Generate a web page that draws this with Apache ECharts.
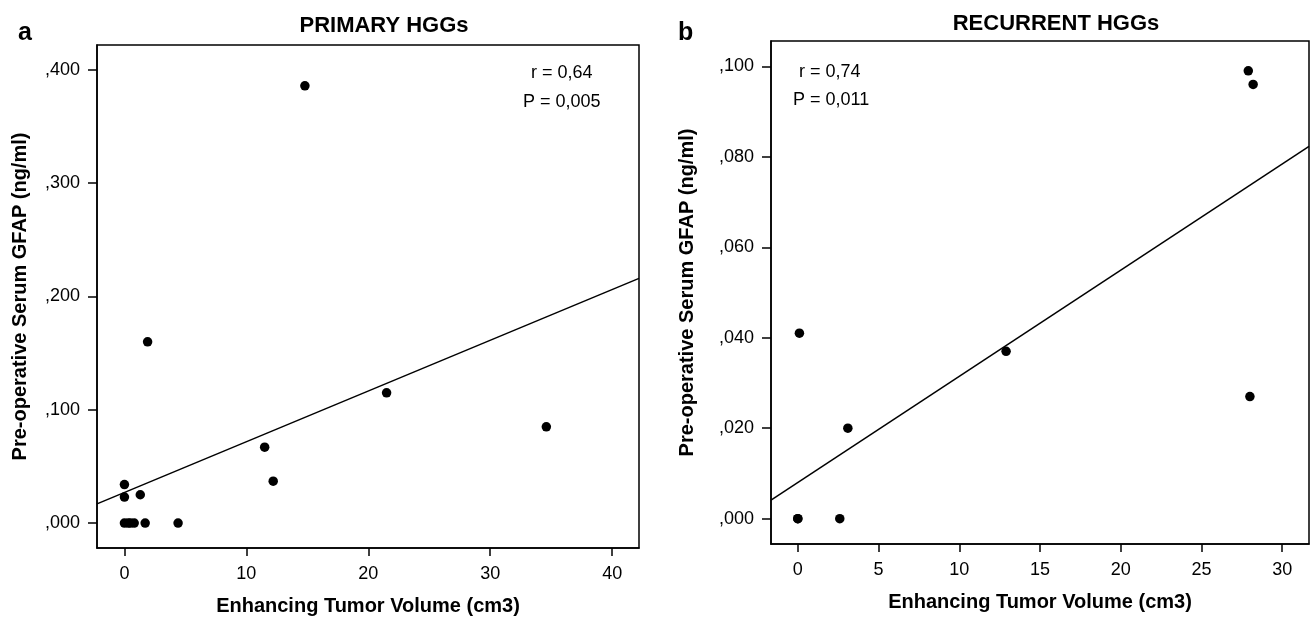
<!DOCTYPE html>
<html>
<head>
<meta charset="utf-8">
<script src="https://cdn.jsdelivr.net/npm/echarts@6/dist/echarts.min.js"></script>
<style>
  html, body { margin: 0; padding: 0; background: #fff; }
  #chart { width: 1311px; height: 621px; }
</style>
</head>
<body>
<div id="chart"></div>
<script>
// panel a: primary HGGs
const primaryX = [14.8, 1.9, 21.5, 34.6, 11.5, 12.2, 0, 0, 1.3, 0, 0.3, 0.5, 0.8, 1.7, 4.4];
const primaryY = [0.386, 0.160, 0.115, 0.085, 0.067, 0.037, 0.034, 0.023, 0.025, 0, 0, 0, 0, 0, 0];
const primaryFit = [[-2.25, 0.017], [42.2, 0.216]];
const primaryXTicks = [0, 10, 20, 30, 40];
const primaryYTicks = [0, 0.1, 0.2, 0.3, 0.4];
const primaryYLabels = [',000', ',100', ',200', ',300', ',400'];

// panel b: recurrent HGGs
const recurrentX = [27.9, 28.2, 0.1, 12.9, 3.1, 28.0, 0, 0, 2.6];
const recurrentY = [0.099, 0.096, 0.041, 0.037, 0.020, 0.027, 0, 0, 0];
const recurrentFit = [[-1.66, 0.0041], [31.66, 0.0823]];
const recurrentXTicks = [0, 5, 10, 15, 20, 25, 30];
const recurrentYTicks = [0, 0.02, 0.04, 0.06, 0.08, 0.1];
const recurrentYLabels = [',000', ',020', ',040', ',060', ',080', ',100'];

const xName = 'Enhancing Tumor Volume (cm3)';
const yName = 'Pre-operative Serum GFAP (ng/ml)';

const font = 'Liberation Sans, Arial, sans-serif';

function pairs(xs, ys) {
  return xs.map((x, i) => [x, ys[i]]);
}

function xAxis(idx, min, max, ticks) {
  return {
    type: 'value', gridIndex: idx, min: min, max: max,
    name: xName, nameLocation: 'middle', nameGap: 48,
    nameTextStyle: { fontFamily: font, fontSize: 20, fontWeight: 'bold', color: '#000' },
    axisLine: { show: true, onZero: false, lineStyle: { color: '#000', width: 1.5 } },
    axisTick: { show: true, length: 8, customValues: ticks, lineStyle: { color: '#000', width: 1.5 } },
    axisLabel: { customValues: ticks, margin: 17, fontFamily: font, fontSize: 18, color: '#000' },
    splitLine: { show: false }
  };
}

function yAxis(idx, min, max, ticks, labels, gap) {
  return {
    type: 'value', gridIndex: idx, min: min, max: max,
    name: yName, nameLocation: 'middle', nameGap: gap,
    nameTextStyle: { fontFamily: font, fontSize: 20, fontWeight: 'bold', color: '#000' },
    axisLine: { show: true, onZero: false, lineStyle: { color: '#000', width: 1.5 } },
    axisTick: { show: true, length: 9, customValues: ticks, lineStyle: { color: '#000', width: 1.5 } },
    axisLabel: {
      customValues: ticks, margin: 17, fontFamily: font, fontSize: 18, color: '#000',
      formatter: v => {
        const i = ticks.findIndex(t => Math.abs(t - v) < 1e-9);
        return i >= 0 ? labels[i] : '';
      }
    },
    splitLine: { show: false }
  };
}

const chart = echarts.init(document.getElementById('chart'));
chart.setOption({
  animation: false,
  backgroundColor: '#fff',
  title: [
    { text: 'PRIMARY HGGs', left: 379, top: 10, textAlign: 'center',
      textStyle: { fontFamily: font, fontSize: 22, fontWeight: 'bold', color: '#000' } },
    { text: 'RECURRENT HGGs', left: 1051, top: 8, textAlign: 'center',
      textStyle: { fontFamily: font, fontSize: 22, fontWeight: 'bold', color: '#000' } }
  ],
  graphic: [
    { type: 'text', left: 18, top: 21, style: { text: 'a', font: 'bold 25px ' + font, fill: '#000' } },
    { type: 'text', left: 678, top: 21, style: { text: 'b', font: 'bold 25px ' + font, fill: '#000' } },
    { type: 'text', left: 531, top: 64, style: { text: 'r = 0,64', font: '18px ' + font, fill: '#000' } },
    { type: 'text', left: 523, top: 93, style: { text: 'P = 0,005', font: '18px ' + font, fill: '#000' } },
    { type: 'text', left: 799, top: 63, style: { text: 'r = 0,74', font: '18px ' + font, fill: '#000' } },
    { type: 'text', left: 793, top: 91, style: { text: 'P = 0,011', font: '18px ' + font, fill: '#000' } }
  ],
  grid: [
    { left: 97, top: 45, width: 542, height: 506, show: true, borderColor: '#000', borderWidth: 1.5 },
    { left: 771, top: 41, width: 538, height: 503, show: true, borderColor: '#000', borderWidth: 1.5 }
  ],
  xAxis: [
    xAxis(0, -2.25, 42.2, primaryXTicks),
    xAxis(1, -1.66, 31.66, recurrentXTicks)
  ],
  yAxis: [
    yAxis(0, -0.022, 0.422, primaryYTicks, primaryYLabels, 67),
    yAxis(1, -0.0056, 0.1056, recurrentYTicks, recurrentYLabels, 74)
  ],
  series: [
    { type: 'scatter', xAxisIndex: 0, yAxisIndex: 0, data: pairs(primaryX, primaryY),
      symbolSize: 9.5, itemStyle: { color: '#000', opacity: 1 } },
    { type: 'line', xAxisIndex: 0, yAxisIndex: 0, data: primaryFit, showSymbol: false,
      lineStyle: { color: '#000', width: 1.5 } },
    { type: 'scatter', xAxisIndex: 1, yAxisIndex: 1, data: pairs(recurrentX, recurrentY),
      symbolSize: 9.5, itemStyle: { color: '#000', opacity: 1 } },
    { type: 'line', xAxisIndex: 1, yAxisIndex: 1, data: recurrentFit, showSymbol: false,
      lineStyle: { color: '#000', width: 1.5 } }
  ]
});
</script>
</body>
</html>
